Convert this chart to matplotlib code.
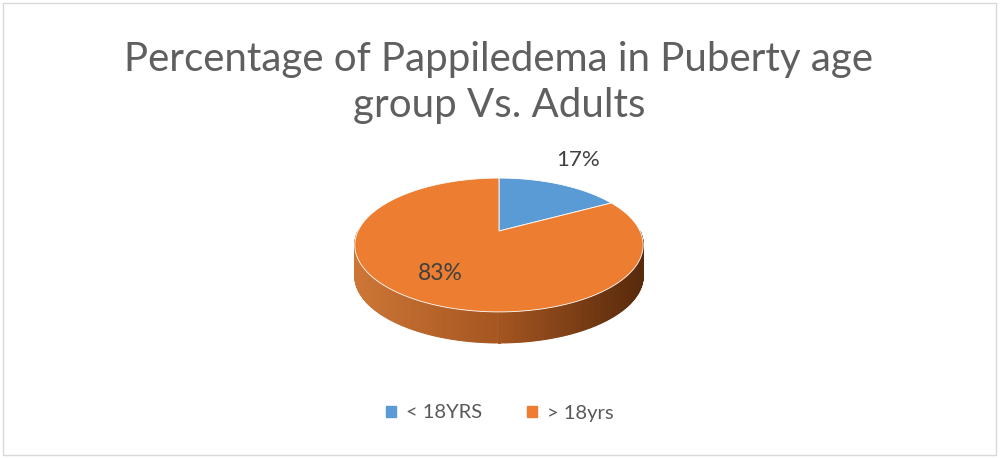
import numpy as np
import matplotlib
matplotlib.use("Agg")
import matplotlib.pyplot as plt
from matplotlib.patches import Rectangle

# data
labels = ["< 18YRS", "> 18yrs"]
values = [17, 83]
pct_labels = ["17%", "83%"]
colors = ["#5b9bd5", "#ed7d31"]
title = "Percentage of Pappiledema in Puberty age\ngroup Vs. Adults"

plt.rcParams['font.family'] = ['Lato', 'DejaVu Sans']

fig = plt.figure(figsize=(10, 4.59), dpi=100)
ax = fig.add_axes([0, 0, 1, 1])
ax.set_xlim(0, 1000)
ax.set_ylim(459, 0)
ax.axis("off")

# outer chart border
ax.add_patch(Rectangle((3, 3), 993, 452, fill=False, ec="#d9d9d9", lw=1))

# pie geometry (pixel space, perspective tilt)
cx, cy = 499, 231
A, B, k = 141, 64, 0.209
depth = 31


def proj(t):
    s = 1 + k * np.sin(t)
    return cx + A * np.cos(t) / s, cy - B * np.sin(t) / s


# slice angles: start at 12 o'clock, go clockwise
fracs = np.array(values) / sum(values)
edges = np.pi / 2 - 2 * np.pi * np.concatenate([[0], np.cumsum(fracs)])

# side wall (front half, angles between pi and 2pi)
xmin, xmax = cx - A / np.sqrt(1 - k ** 2), cx + A / np.sqrt(1 - k ** 2)
c_left = np.array([205, 118, 55]) / 255
c_mid = np.array([165, 85, 32]) / 255
c_right = np.array([88, 42, 12]) / 255
tt = np.linspace(np.pi, 2 * np.pi, 240)
for t0, t1 in zip(tt[:-1], tt[1:]):
    x0, y0 = proj(t0)
    x1, y1 = proj(t1)
    f = ((x0 + x1) / 2 - xmin) / (xmax - xmin)
    if f < 0.5:
        col = c_left + (c_mid - c_left) * f / 0.5
    else:
        col = c_mid + (c_right - c_mid) * (f - 0.5) / 0.5
    ax.fill([x0, x1, x1, x0], [y0, y1, y1 + depth, y0 + depth],
            color=col, lw=0.8, ec=col)

# top faces
for i in range(len(values)):
    t = np.linspace(edges[i], edges[i + 1], 300)
    px, py = proj(t)
    ax.fill(np.r_[cx, px], np.r_[cy, py], color=colors[i], ec="white", lw=0.6)

# data labels
ax.text(578, 160, pct_labels[0], fontsize=16, color="#404040",
        ha="center", va="center")
ax.text(440, 273, pct_labels[1], fontsize=16.5, color="#404040",
        ha="center", va="center")

# title
ax.text(499, 82, title, fontsize=29, color="#5f5f5f", ha="center",
        va="center", linespacing=1.3)

# legend
ax.legend([Rectangle((0, 0), 1, 1, color=c) for c in colors], labels,
          loc="center", bbox_to_anchor=(0.5, 1 - 413 / 459), ncol=2,
          frameon=False, fontsize=14.5, handlelength=0.5, handleheight=0.5,
          columnspacing=2.2, handletextpad=0.5, labelcolor="#595959")

fig.savefig("out.png", dpi=100)
